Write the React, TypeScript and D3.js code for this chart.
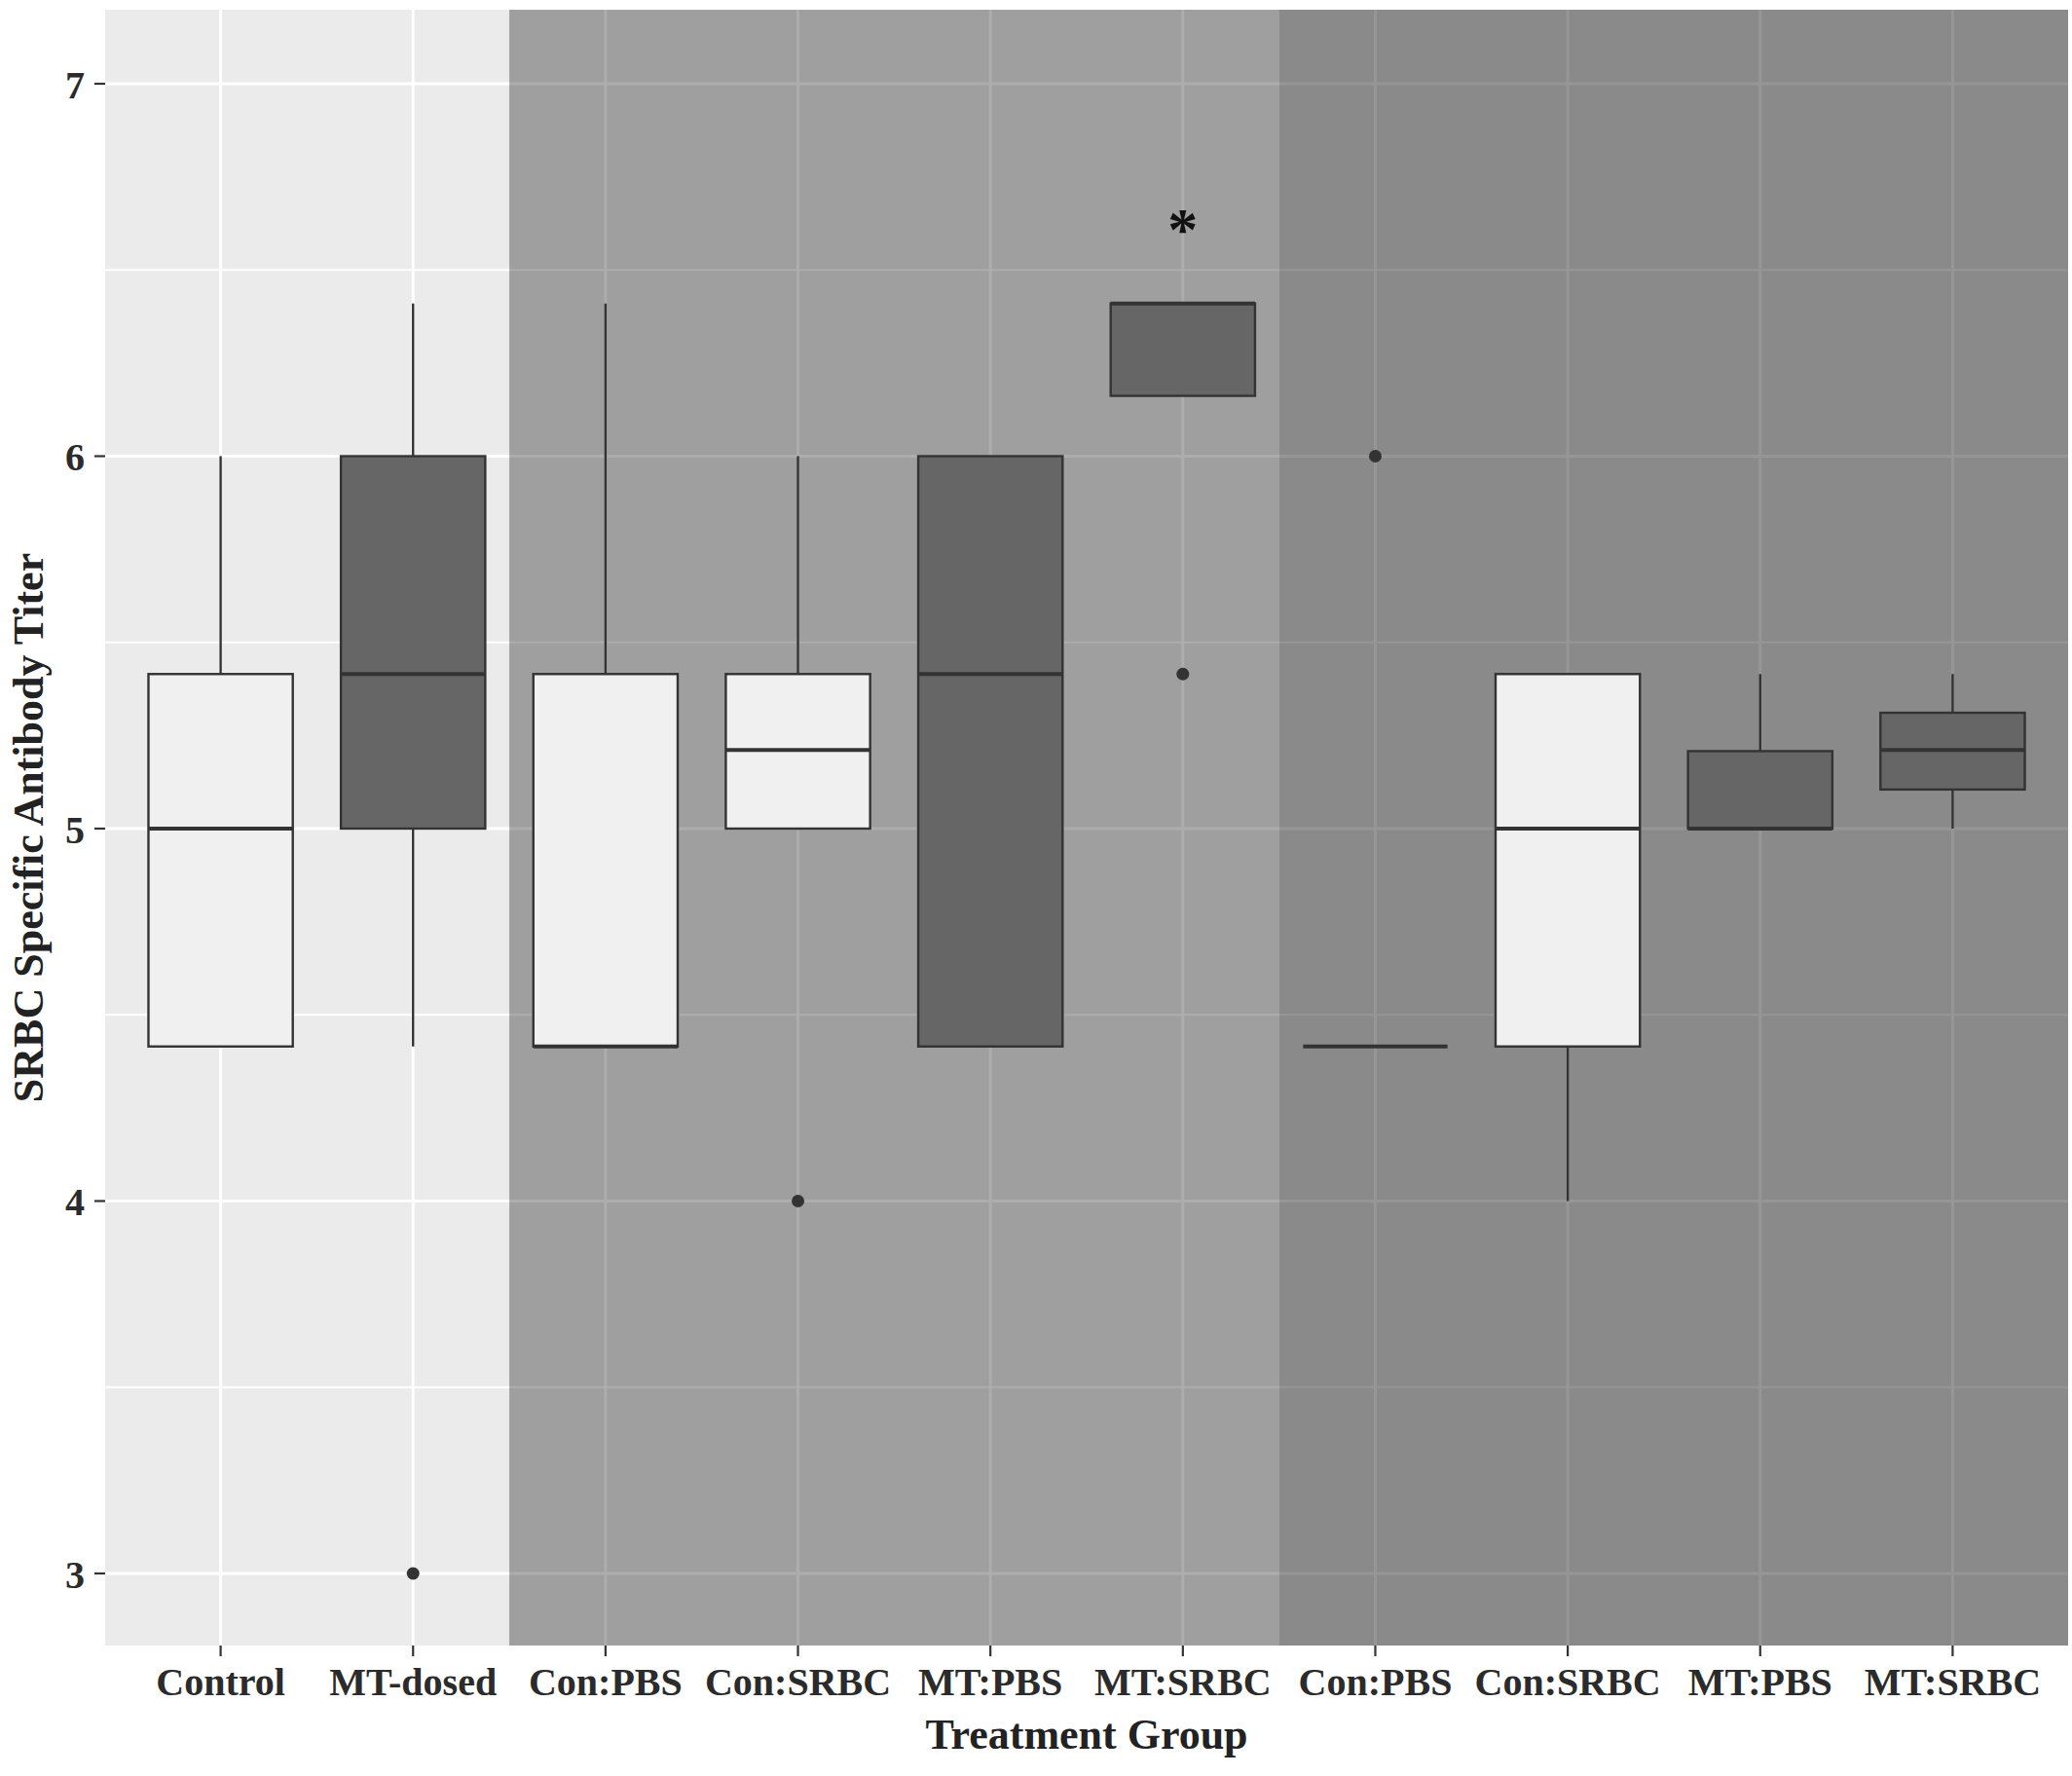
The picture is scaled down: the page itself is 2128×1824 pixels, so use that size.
import React from "react";
import * as d3 from "d3";

const categories = ["Control", "MT-dosed", "Con:PBS", "Con:SRBC", "MT:PBS", "MT:SRBC", "Con:PBS", "Con:SRBC", "MT:PBS", "MT:SRBC"];
const fillGroup = ["light", "dark", "light", "light", "dark", "dark", "light", "light", "dark", "dark"];
const whiskerLow = [4.415, 4.415, 4.415, 5.0, 4.415, 6.162, 4.415, 4.0, 5.0, 5.0];
const q1 = [4.415, 5.0, 4.415, 5.0, 4.415, 6.162, 4.415, 4.415, 5.0, 5.105];
const median = [5.0, 5.415, 4.415, 5.211, 5.415, 6.41, 4.415, 5.0, 5.0, 5.211];
const q3 = [5.415, 6.0, 5.415, 5.415, 6.0, 6.41, 4.415, 5.415, 5.208, 5.311];
const whiskerHigh = [6.0, 6.41, 6.41, 6.0, 6.0, 6.41, 4.415, 5.415, 5.415, 5.415];
const outliers: [number, number][] = [[1, 3.0], [3, 4.0], [5, 5.415], [6, 6.0]];
const significance: [number, string][] = [[5, "*"]];
const yTicks = [3, 4, 5, 6, 7];
const yMinor = [3.5, 4.5, 5.5, 6.5];
const bands: [number, number, number][] = [[1.5, 5.5, 0.32], [5.5, 9.6, 0.41]];

const W = 2128, H = 1824;
const L = 108, R = 2124, T = 10, B = 1690;

export default function App() {
  const x = d3.scaleLinear().domain([-0.6, categories.length - 1 + 0.6]).range([L, R]);
  const y = d3.scaleLinear().domain([2.8065, 7.1987]).range([B, T]);
  const step = x(1) - x(0);
  const bw = step * 0.75;
  const font = "'Liberation Serif', 'Times New Roman', serif";
  const stroke = "#333333";
  return (
    <svg width={W} height={H} style={{ position: "absolute", left: 0, top: 0, background: "#fff" }}>
      <rect x={L} y={T} width={R - L} height={B - T} fill="#EBEBEB" />
      {yMinor.map((v) => (
        <line key={"mn" + v} x1={L} x2={R} y1={y(v)} y2={y(v)} stroke="#fff" strokeWidth={1.8} />
      ))}
      {yTicks.map((v) => (
        <line key={"mj" + v} x1={L} x2={R} y1={y(v)} y2={y(v)} stroke="#fff" strokeWidth={3} />
      ))}
      {categories.map((c, i) => (
        <line key={"vg" + i} x1={x(i)} x2={x(i)} y1={T} y2={B} stroke="#fff" strokeWidth={3} />
      ))}
      {bands.map(([a, b, op], i) => (
        <rect key={"band" + i} x={x(a)} y={T} width={x(b) - x(a)} height={B - T} fill="#000" fillOpacity={op} />
      ))}
      {categories.map((c, i) => {
        const cx = x(i);
        const fill = fillGroup[i] === "light" ? "#F0F0F0" : "#666666";
        return (
          <g key={"box" + i}>
            <line x1={cx} x2={cx} y1={y(q3[i])} y2={y(whiskerHigh[i])} stroke={stroke} strokeWidth={2.4} />
            <line x1={cx} x2={cx} y1={y(q1[i])} y2={y(whiskerLow[i])} stroke={stroke} strokeWidth={2.4} />
            <rect x={cx - bw / 2} y={y(q3[i])} width={bw} height={Math.max(0, y(q1[i]) - y(q3[i]))} fill={fill} stroke={stroke} strokeWidth={2.4} />
            <line x1={cx - bw / 2} x2={cx + bw / 2} y1={y(median[i])} y2={y(median[i])} stroke={stroke} strokeWidth={4} />
          </g>
        );
      })}
      {outliers.map(([i, v], k) => (
        <circle key={"o" + k} cx={x(i)} cy={y(v)} r={6.5} fill={stroke} />
      ))}
      {significance.map(([i, s], k) => (
        <text key={"s" + k} x={x(i)} y={y(6.62) + 25} textAnchor="middle" fontFamily={font} fontWeight="bold" fontSize={62} fill="#111">{s}</text>
      ))}
      {yTicks.map((v) => (
        <g key={"yt" + v}>
          <line x1={97} x2={L} y1={y(v)} y2={y(v)} stroke={stroke} strokeWidth={2.2} />
          <text x={87} y={y(v) + 15} textAnchor="end" fontFamily={font} fontWeight="bold" fontSize={40} fill="#2b2b2b">{v}</text>
        </g>
      ))}
      {categories.map((c, i) => (
        <g key={"xt" + i}>
          <line x1={x(i)} x2={x(i)} y1={B} y2={B + 11} stroke={stroke} strokeWidth={2.2} />
          <text x={x(i)} y={1741} textAnchor="middle" fontFamily={font} fontWeight="bold" fontSize={40} fill="#2b2b2b">{c}</text>
        </g>
      ))}
      <text x={(L + R) / 2} y={1796} textAnchor="middle" fontFamily={font} fontWeight="bold" fontSize={44} fill="#222">Treatment Group</text>
      <text transform={`translate(44, ${(T + B) / 2}) rotate(-90)`} textAnchor="middle" fontFamily={font} fontWeight="bold" fontSize={44} fill="#222">SRBC Specific Antibody Titer</text>
    </svg>
  );
}
